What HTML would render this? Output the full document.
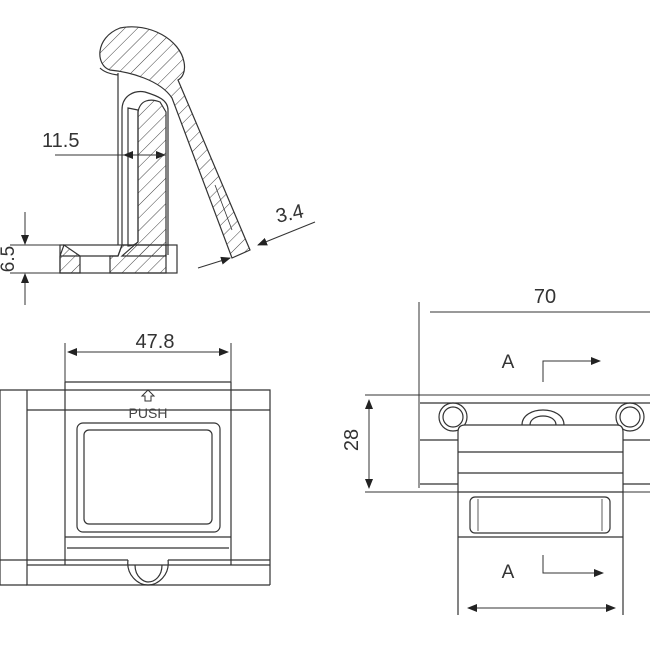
<!DOCTYPE html>
<html><head><style>body{margin:0;background:#fff}svg{display:block}</style></head><body>
<svg width="650" height="650" viewBox="0 0 650 650" xmlns="http://www.w3.org/2000/svg" font-family="Liberation Sans, sans-serif" fill="none" stroke="#333" stroke-width="1.2">
<defs>
<pattern id="h" width="9" height="9" patternUnits="userSpaceOnUse" patternTransform="rotate(45)"><line x1="0" y1="0" x2="0" y2="9" stroke="#444" stroke-width="1"/></pattern>
<marker id="a" markerWidth="10" markerHeight="8" refX="9" refY="4" orient="auto" markerUnits="userSpaceOnUse"><path d="M0,0 L10,4 L0,8z" fill="#222" stroke="none"/></marker>
</defs>
<!-- TOP SECTION -->
<path d="M120,28 C150,22 180,40 184,62 C186,72 182,78 178,80 L250,250 L232,258 L172,98 C160,80 130,72 110,70 C96,66 94,38 120,28Z" fill="url(#h)"/>
<path d="M100,68 C104,72 110,74 118,75"/>
<line x1="118" y1="73" x2="118" y2="245"/>
<path d="M122,245 L122,110 C122,95 135,90 145,92 C158,96 168,100 168,110 L168,255" />
<path d="M128,108 L138,110 L138,242 C136,244 132,246 128,246 Z"/>
<path d="M138,112 C140,100 150,98 160,102 L166,112 L166,256 L122,256 L138,242Z" fill="url(#h)"/>
<rect x="60" y="245" width="117" height="28"/>
<path d="M60,256 L118,256 L122,245"/>
<path d="M64,245 L60,256 L60,273 L80,273 L80,256Z" fill="url(#h)"/>
<path d="M110,256 L118,256 L122,245 L166,245 L166,273 L110,273Z" fill="url(#h)"/>
<line x1="215" y1="185" x2="232" y2="230" stroke-width="0.8"/>
<!-- dims top -->
<line x1="55" y1="155" x2="130" y2="155" stroke-width="1"/>
<line x1="128" y1="155" x2="165" y2="155" marker-end="url(#a)" stroke-width="1"/>
<line x1="165" y1="155" x2="124" y2="155" marker-end="url(#a)" stroke-width="1"/>
<text x="42" y="147" font-size="20" fill="#333" stroke="none">11.5</text>
<line x1="10" y1="245" x2="60" y2="245" stroke-width="1"/>
<line x1="10" y1="273" x2="60" y2="273" stroke-width="1"/>
<line x1="25" y1="212" x2="25" y2="244" marker-end="url(#a)" stroke-width="1"/>
<line x1="25" y1="305" x2="25" y2="274" marker-end="url(#a)" stroke-width="1"/>
<text x="14" y="259" font-size="19" fill="#333" stroke="none" transform="rotate(-90 14 259)" text-anchor="middle">6.5</text>
<line x1="198" y1="268" x2="230" y2="258" marker-end="url(#a)" stroke-width="1"/>
<line x1="315" y1="222" x2="258" y2="245" marker-end="url(#a)" stroke-width="1"/>
<text x="291" y="220" font-size="20" fill="#333" stroke="none" transform="rotate(-12 291 220)" text-anchor="middle">3.4</text>
<!-- BOTTOM LEFT -->
<line x1="65" y1="343" x2="65" y2="390" stroke-width="1"/>
<line x1="231" y1="343" x2="231" y2="390" stroke-width="1"/>
<line x1="70" y1="352" x2="226" y2="352" stroke-width="1"/>
<line x1="148" y1="352" x2="228" y2="352" marker-end="url(#a)" stroke-width="1"/>
<line x1="148" y1="352" x2="68" y2="352" marker-end="url(#a)" stroke-width="1"/>
<text x="155" y="348" font-size="20" fill="#333" stroke="none" text-anchor="middle">47.8</text>
<line x1="65" y1="382" x2="231" y2="382"/>
<path d="M0,390 L27,390 M27,390 L270,390 L270,585 M27,390 L27,585 L270,585"/>
<line x1="0" y1="390" x2="0" y2="585"/>
<line x1="65" y1="382" x2="65" y2="565"/>
<line x1="231" y1="382" x2="231" y2="565"/>
<line x1="27" y1="410" x2="270" y2="410"/>
<path d="M148,390 l-6,6 h3 v5 h6 v-5 h3z" stroke-width="1"/>
<text x="148" y="418" font-size="14" fill="#444" stroke="none" text-anchor="middle">PUSH</text>
<rect x="77" y="423" width="143" height="109" rx="6"/>
<rect x="84" y="430" width="128" height="94" rx="5"/>
<path d="M65,537 L231,537 M67,548 L229,548"/>
<line x1="0" y1="560" x2="128" y2="560"/><line x1="168" y1="560" x2="270" y2="560"/>
<line x1="27" y1="565" x2="270" y2="565"/>
<path d="M128,560 C126,575 138,585 148,585 C158,585 170,575 168,560"/>
<path d="M135,565 C135,578 145,582 148,582 C155,582 162,576 162,565"/>
<line x1="0" y1="585" x2="27" y2="585"/>
<!-- RIGHT VIEW -->
<text x="545" y="303" font-size="20" fill="#333" stroke="none" text-anchor="middle">70</text>
<line x1="430" y1="312" x2="650" y2="312" stroke-width="1"/>
<line x1="419" y1="302" x2="419" y2="488" stroke-width="1"/>
<text x="508" y="368" font-size="19" fill="#333" stroke="none" text-anchor="middle">A</text>
<path d="M543,382 L543,361 L600,361" stroke-width="1" marker-end="url(#a)"/>
<line x1="365" y1="395" x2="650" y2="395" stroke-width="1"/>
<line x1="365" y1="492" x2="650" y2="492" stroke-width="1"/>
<line x1="369" y1="440" x2="369" y2="400" marker-end="url(#a)" stroke-width="1"/>
<line x1="369" y1="440" x2="369" y2="488" marker-end="url(#a)" stroke-width="1"/>
<text x="358" y="440" font-size="20" fill="#333" stroke="none" transform="rotate(-90 358 440)" text-anchor="middle">28</text>
<path d="M420,403 L650,403 M420,440 L458,440 M623,440 L650,440 M420,484 L458,484 M623,484 L650,484"/>
<circle cx="453" cy="417" r="14"/><circle cx="453" cy="417" r="10"/>
<circle cx="630" cy="417" r="14"/><circle cx="630" cy="417" r="10"/>
<path d="M522,425 C522,405 564,405 564,425 M530,425 C530,413 556,413 556,425"/>
<path d="M458,615 L458,432 Q458,425 465,425 L617,425 Q623,425 623,432 L623,615" fill="#fff"/>
<line x1="458" y1="452" x2="623" y2="452"/>
<line x1="458" y1="473" x2="623" y2="473"/>
<line x1="458" y1="492" x2="623" y2="492"/>
<rect x="470" y="497" width="140" height="36" rx="5"/>
<line x1="478" y1="499" x2="478" y2="531" stroke-width="0.8"/><line x1="602" y1="499" x2="602" y2="531" stroke-width="0.8"/>
<line x1="458" y1="537" x2="623" y2="537"/>
<text x="508" y="578" font-size="19" fill="#333" stroke="none" text-anchor="middle">A</text>
<path d="M543,555 L543,573 L603,573" stroke-width="1" marker-end="url(#a)"/>
<line x1="540" y1="608" x2="468" y2="608" marker-end="url(#a)" stroke-width="1"/>
<line x1="540" y1="608" x2="615" y2="608" marker-end="url(#a)" stroke-width="1"/>
</svg>
</body></html>
